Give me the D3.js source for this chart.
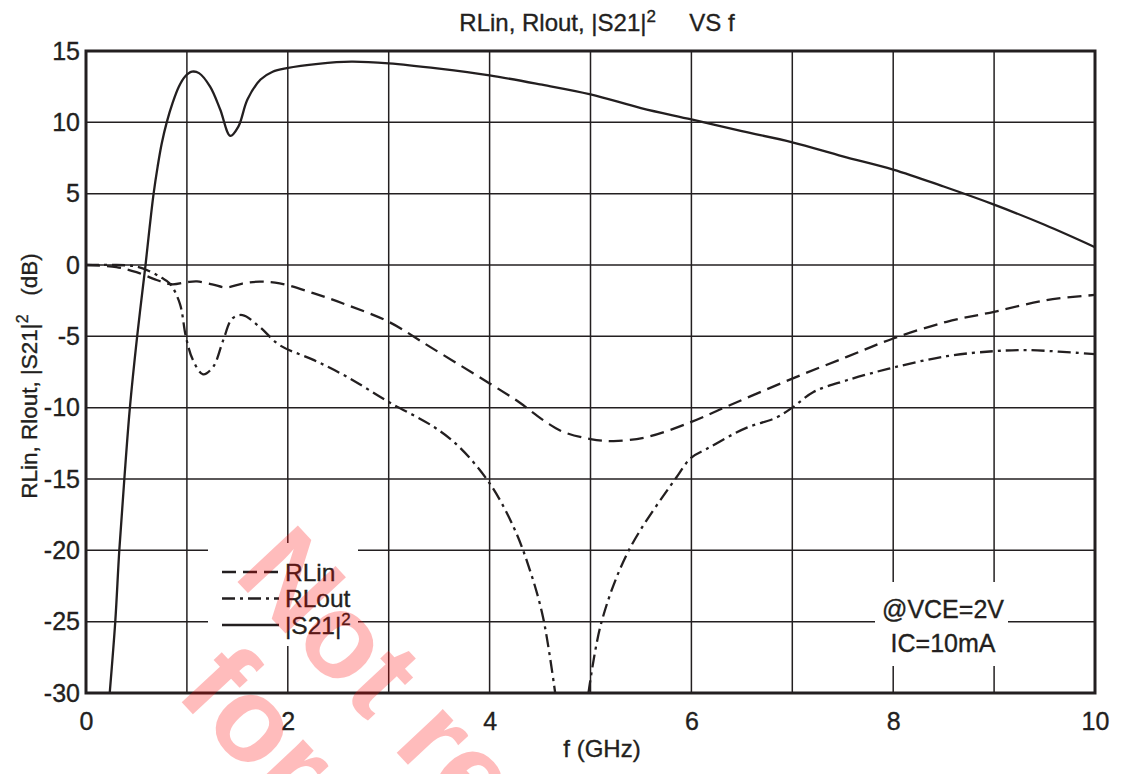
<!DOCTYPE html>
<html>
<head>
<meta charset="utf-8">
<script src="https://cdn.jsdelivr.net/npm/d3@7"></script>
<style>
  html, body { margin: 0; padding: 0; background: #fff; }
  svg { display: block; font-family: "Liberation Sans", Arial, Helvetica, sans-serif; }
  .lbl { stroke: #231f20; stroke-width: 0.35px; }
</style>
</head>
<body>
<svg id="chart" width="1133" height="774"></svg>
<script>
// ---------- data ----------
const freqS21 = [0.235,0.29,0.33,0.38,0.435,0.507,0.59,0.63,0.67,0.71,0.75,0.80,0.86,0.92,0.98,1.05,1.12,1.23,1.33,1.43,1.51,1.6,1.73,1.85,1.99,2.3,2.63,3.0,3.5,4.0,4.5,5.0,5.5,6.0,6.5,7.0,7.5,8.0,8.5,9.0,9.5,10];
const s21Values = [-30,-25,-20,-15,-10,-5,0,2.6,5.0,6.9,8.5,10.0,11.4,12.5,13.2,13.55,13.45,12.5,10.9,9.05,9.7,11.6,13.0,13.55,13.8,14.1,14.25,14.13,13.76,13.29,12.66,11.96,11.0,10.2,9.38,8.6,7.62,6.69,5.5,4.23,2.82,1.25];

const freqRLin = [0,0.3,0.5,0.7,0.85,1.0,1.1,1.25,1.39,1.55,1.72,1.92,2.26,2.59,3.0,3.41,4.0,4.29,4.44,4.57,4.73,5.0,5.23,5.56,6.0,6.38,7.0,7.54,8.0,8.53,9.0,9.52,10];
const rlinValues = [0,-0.15,-0.5,-1.05,-1.35,-1.2,-1.15,-1.35,-1.57,-1.3,-1.17,-1.29,-1.99,-2.81,-3.98,-5.74,-8.3,-9.6,-10.4,-11.06,-11.7,-12.2,-12.34,-12.06,-11.0,-9.83,-7.96,-6.44,-5.15,-3.98,-3.28,-2.46,-2.1];

const freqRLout = [0,0.3,0.5,0.65,0.75,0.83,0.93,0.99,1.06,1.16,1.26,1.36,1.45,1.55,1.72,1.92,2.26,2.59,3.0,3.45,3.7,4.0,4.24,4.4,4.53,4.65,4.8,4.98,5.11,5.38,5.84,6.0,6.15,6.35,6.55,6.84,7.0,7.21,7.54,8.0,8.53,9.0,9.35,10];
const rloutValues = [0,0,-0.1,-0.5,-0.9,-1.29,-2.7,-5.03,-6.67,-7.66,-7.14,-5.27,-3.75,-3.51,-4.33,-5.62,-6.67,-7.85,-9.6,-11.36,-12.76,-15.3,-18.4,-21.4,-24.7,-30,null,-30,-25,-20,-15,-13.5,-12.9,-12.1,-11.4,-10.7,-10.0,-8.9,-8.08,-7.19,-6.39,-6.04,-5.97,-6.25];

const xTickLabels = [0,2,4,6,8,10];
const xGrid = [1,2,3,4,5,6,7,8,9];
const yTickLabels = [15,10,5,0,-5,-10,-15,-20,-25,-30];
const yGrid = [10,5,0,-5,-10,-15,-20,-25];

const legendNames = ["RLin","RLout","|S21|"];
const annotationLines = ["@VCE=2V","IC=10mA"];

// ---------- layout ----------
const ink = "#231f20";
const svg = d3.select("#chart");
const L = 86, T = 51, R = 1095, B = 693;
const x = d3.scaleLinear().domain([0,10]).range([L,R]);
const y = d3.scaleLinear().domain([-30,15]).range([B,T]);

// grid
const g = svg.append("g");
g.selectAll("line.vg").data(xGrid).join("line")
  .attr("x1", d => x(d)).attr("x2", d => x(d))
  .attr("y1", T).attr("y2", B)
  .attr("stroke", ink).attr("stroke-width", 1.5);
g.selectAll("line.hg").data(yGrid).join("line")
  .attr("x1", L).attr("x2", R)
  .attr("y1", d => y(d)).attr("y2", d => y(d))
  .attr("stroke", ink).attr("stroke-width", 1.5);

// white boxes behind legend and annotation
svg.append("rect").attr("x", 208).attr("y", 543).attr("width", 150).attr("height", 103).attr("fill", "#fff");
svg.append("rect").attr("x", 875).attr("y", 582).attr("width", 133).attr("height", 84).attr("fill", "#fff");

// axis labels via d3 axes (no domain / tick lines)
const fmt = d => String(d);
const xAxis = d3.axisBottom(x).tickValues(xTickLabels).tickSize(0).tickPadding(19).tickFormat(fmt);
const xa = svg.append("g").attr("transform", `translate(0,${B})`).call(xAxis);
xa.select(".domain").remove();
xa.selectAll("text").attr("class", "lbl").attr("font-size", 25).attr("fill", ink).attr("font-family", "Liberation Sans, Arial, sans-serif");

const yAxis = d3.axisLeft(y).tickValues(yTickLabels).tickSize(0).tickPadding(6).tickFormat(fmt);
const ya = svg.append("g").attr("transform", `translate(${L},0)`).call(yAxis);
ya.select(".domain").remove();
ya.selectAll("text").attr("class", "lbl").attr("font-size", 25).attr("fill", ink).attr("font-family", "Liberation Sans, Arial, sans-serif");

// curves
svg.append("clipPath").attr("id", "plotclip").append("rect")
  .attr("x", L).attr("y", T).attr("width", R - L).attr("height", B - T);
const line = d3.line()
  .defined(d => d[1] !== null)
  .x(d => x(d[0])).y(d => y(d[1]))
  .curve(d3.curveCatmullRom.alpha(0.5));
const plot = svg.append("g").attr("clip-path", "url(#plotclip)");
const series = [
  { f: freqRLin, v: rlinValues, dash: "14,7" },
  { f: freqRLout, v: rloutValues, dash: "13,5,3,5" },
  { f: freqS21, v: s21Values, dash: null }
];
series.forEach(s => {
  plot.append("path")
    .datum(s.f.map((f, i) => [f, s.v[i]]))
    .attr("d", line)
    .attr("fill", "none").attr("stroke", ink).attr("stroke-width", 2.3)
    .attr("stroke-dasharray", s.dash);
});

// frame
svg.append("rect").attr("x", L).attr("y", T).attr("width", R - L).attr("height", B - T)
  .attr("fill", "none").attr("stroke", ink).attr("stroke-width", 3);

// legend
legendNames.forEach((name, i) => {
  const ly = 572 + i * 26.5;
  svg.append("line").attr("x1", 222).attr("x2", 279).attr("y1", ly).attr("y2", ly)
    .attr("stroke", ink).attr("stroke-width", 2.3).attr("stroke-dasharray", series[i].dash);
  const t = svg.append("text").attr("class", "lbl").attr("x", 285).attr("y", ly + 8.5)
    .attr("font-size", 24.5).attr("fill", ink).text(name);
  if (i === 2) t.append("tspan").attr("dy", -9).attr("font-size", 17).text("2");
});

// annotation
annotationLines.forEach((s, i) => {
  svg.append("text").attr("class", "lbl").attr("x", 943).attr("y", 618 + i * 34).attr("text-anchor", "middle")
    .attr("font-size", 25).attr("fill", ink).text(s);
});

// title
const title = svg.append("text").attr("class", "lbl").attr("x", 597).attr("y", 31).attr("text-anchor", "middle")
  .attr("font-size", 24).attr("fill", ink);
title.append("tspan").text("RLin, Rlout, |S21|");
title.append("tspan").attr("dy", -9).attr("font-size", 17).text("2");
title.append("tspan").attr("dy", 9).text("\u00a0\u00a0\u00a0\u00a0 VS f");

// x label
svg.append("text").attr("class", "lbl").attr("x", 602).attr("y", 757).attr("text-anchor", "middle")
  .attr("font-size", 24).attr("fill", ink).text("f (GHz)");

// y label
const yl = svg.append("text").attr("class", "lbl").attr("transform", "translate(37,376) rotate(-90)")
  .attr("text-anchor", "middle").attr("font-size", 22.5).attr("fill", ink);
yl.append("tspan").text("RLin, Rlout, |S21|");
yl.append("tspan").attr("dy", -9).attr("font-size", 16).text("2");
yl.append("tspan").attr("dy", 9).text("\u00a0\u00a0\u00a0(dB)");

// watermark
const wm = svg.append("g").attr("opacity", 0.26).attr("fill", "#ff0000")
  .attr("font-weight", "bold").attr("font-size", 120);
wm.append("text").attr("transform", "translate(232,576) rotate(47)").text("Not recommended");
wm.append("text").attr("transform", "translate(174,694) rotate(47)").text("for new designs");
</script>
</body>
</html>
